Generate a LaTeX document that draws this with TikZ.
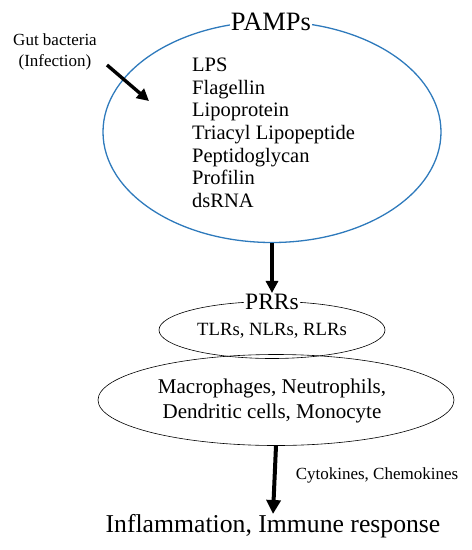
\documentclass[tikz,border=0pt]{standalone}
\usepackage{fontspec}
\setmainfont{Liberation Serif}
\usetikzlibrary{shapes.geometric,arrows.meta}
\definecolor{pampblue}{RGB}{46,122,188}
\tikzset{
  oval/.style={ellipse, draw, inner sep=0pt},
  fat/.style={draw=black, -{Triangle[length=#1,width=#1]}},
  lbl/.style={inner sep=1pt, fill=white},
}
\begin{document}
\begin{tikzpicture}[x=1pt,y=-1pt]
\useasboundingbox (0,0) rectangle (472,550);
% big blue ellipse
\node[oval, draw=pampblue, line width=1.3pt, minimum width=338pt, minimum height=221pt] (pamp) at (272,132) {};
\node[lbl, font=\fontsize{26.5}{28}\selectfont] (pamps) at (271,22) {PAMPs};
\node[anchor=north west, inner sep=0pt, align=left, font=\fontsize{20.5}{22.6}\selectfont] (list) at (192,58)
  {LPS\\Flagellin\\Lipoprotein\\Triacyl Lipopeptide\\Peptidoglycan\\Profilin\\dsRNA};
\node[align=center, inner sep=0pt, font=\fontsize{17}{21}\selectfont] (gut) at (55,52) {Gut bacteria\\(Infection)};
\coordinate (ga) at (107,65);
\coordinate (gb) at (149,101);
\draw[fat=12pt, line width=3.4pt] (ga) -- (gb);
% PRRs
\node[oval, line width=0.6pt, minimum width=226pt, minimum height=57pt] (prr) at (272,330) {};
\node[oval, line width=0.6pt, minimum width=356pt, minimum height=91pt] (cells) at (276,400) {};
\node[lbl, font=\fontsize{23.5}{24}\selectfont] (prrs) at (272,302) {PRRs};
\node[font=\fontsize{18.7}{20}\selectfont, inner sep=0pt] (tlr) at (272,331) {TLRs, NLRs, RLRs};
\node[align=center, inner sep=0pt, font=\fontsize{21}{25}\selectfont] (cellt) at (272,401) {Macrophages, Neutrophils,\\Dendritic cells, Monocyte};
\draw[fat=12pt, line width=3.5pt] (pamp.south) -- (prrs.north);
\node[font=\fontsize{25.7}{26}\selectfont, inner sep=0pt] (infl) at (273,526) {Inflammation, Immune response};
\draw[fat=14pt, line width=4pt] (cells.south) -- (infl.north);
\node[font=\fontsize{17}{18}\selectfont, inner sep=0pt] (cyto) at (377,475) {Cytokines, Chemokines};
\end{tikzpicture}
\end{document}
